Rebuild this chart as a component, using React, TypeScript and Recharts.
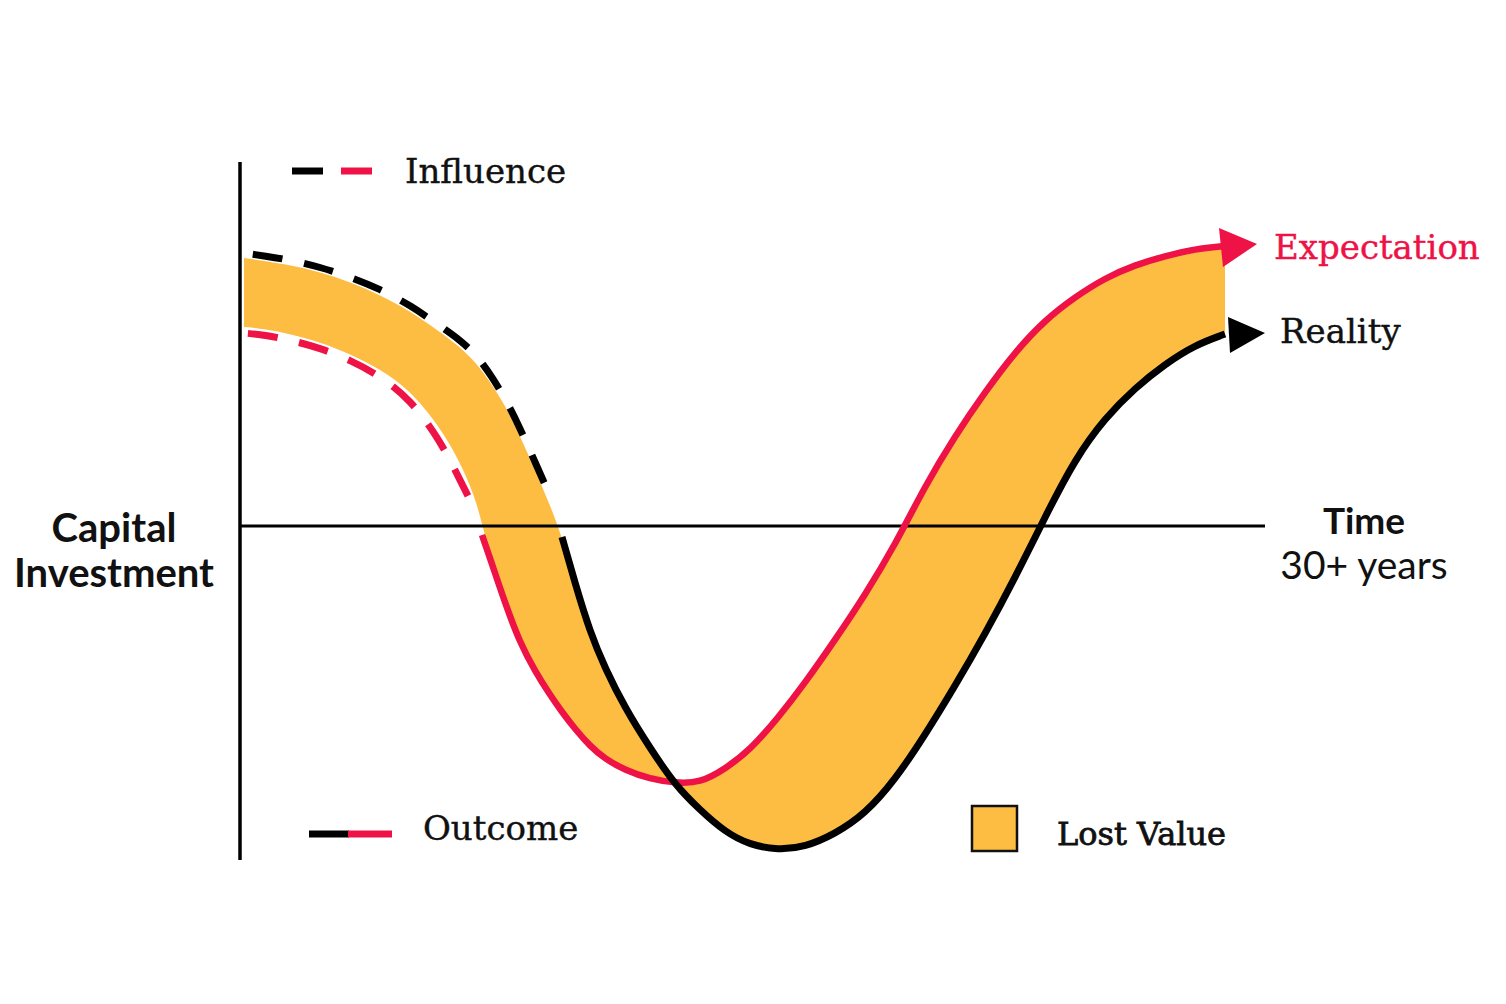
import { ComposedChart, Area, Line, XAxis, YAxis, ReferenceLine, Customized } from "recharts";

const RED = "#EE1246";
const GOLD = "#FCBD42";
const SERIF = "'DejaVu Serif', serif";
const SANS = "Lato, 'Open Sans', sans-serif";

// time positions along the horizontal axis
const xs = [
  244, 265, 290, 320, 350, 380, 410, 440, 460, 475, 482, 490, 505, 520, 535, 550, 562, 575, 590, 605, 625,
  650, 675, 700, 725, 750, 778, 805, 835, 865, 895, 925, 955, 985, 1015, 1045, 1075, 1105, 1135, 1165, 1195, 1225,
];

// level above / below the time axis
const reality = [
  273, 270, 266, 259, 249, 237, 221, 200, 186, 172, 163, 152, 128, 98, 64, 30, -11, -57, -106, -142, -182,
  -222, -259, -284, -306, -319, -324, -321, -308, -288, -254, -209, -160, -108, -52, 9, 67, 108, 138, 162, 181, 192,
];
const expectation = [
  193, 191, 186, 178, 166, 150, 127, 86, 46, 16, -9, -32, -77, -117, -145, -169, -186, -203, -220, -233, -244,
  -253, -257, -257, -243, -224, -192, -157, -114, -69, -19, 40, 90, 134, 174, 206, 229, 248, 261, 270, 277, 280,
];

// edges of the lost value band (sits just inside the dashed influence lines)
const bandReality = [
  268, 265, 261, 254, 244, 231, 215, 194, 179, 164, 155, 144, 121, 90, 56, 21, -11, -57, -106, -142, -182,
  -222, -259, -284, -306, -319, -324, -321, -308, -288, -254, -209, -160, -108, -52, 9, 67, 108, 138, 162, 181, 192,
];
const bandExpectation = [
  199, 197, 192, 184, 172, 157, 136, 99, 64, 29, 2, -28, -77, -117, -145, -169, -186, -203, -220, -233, -244,
  -253, -257, -257, -243, -224, -192, -157, -114, -69, -19, 40, 90, 134, 174, 206, 229, 248, 261, 270, 277, 280,
];

// where influence (dashed) ends and outcome (solid) starts
const realityDashEnd = 550;
const realitySolidStart = 562;
const expectationDashEnd = 475;
const expectationSolidStart = 482;

const rows = xs.map((x, i) => ({
  x,
  realityDash: x <= realityDashEnd ? reality[i] : null,
  realitySolid: x >= realitySolidStart ? reality[i] : null,
  expectationDash: x <= expectationDashEnd ? expectation[i] : null,
  expectationSolid: x >= expectationSolidStart ? expectation[i] : null,
  lost: [bandReality[i], bandExpectation[i]],
}));

const lastIndex = xs.length - 1;

const arrowDot = (color: string, pts: string) => (props: any) => {
  const { cx, cy, index } = props;
  if (index !== lastIndex || cx == null) return <g key={`d-${index}`} />;
  return (
    <polygon
      key={`arrow-${index}`}
      points={pts
        .split(" ")
        .map((p) => {
          const [dx, dy] = p.split(",").map(Number);
          return `${cx + dx},${cy + dy}`;
        })
        .join(" ")}
      fill={color}
    />
  );
};

const serifText = { fontFamily: SERIF, fontSize: 34, strokeWidth: 0.4 };

const Labels = () => (
  <g>
    {/* influence legend */}
    <line x1={292} y1={171} x2={323} y2={171} stroke="#000" strokeWidth={7} />
    <line x1={341} y1={171} x2={372} y2={171} stroke={RED} strokeWidth={7} />
    <text x={405} y={183} {...serifText} fill="#111" stroke="#111">
      Influence
    </text>

    {/* outcome legend */}
    <line x1={309} y1={834} x2={349} y2={834} stroke="#000" strokeWidth={7} />
    <line x1={348} y1={834} x2={392} y2={834} stroke={RED} strokeWidth={7} />
    <text x={423} y={840} {...serifText} fill="#111" stroke="#111">
      Outcome
    </text>

    {/* lost value legend */}
    <rect x={972} y={806} width={45} height={45} fill={GOLD} stroke="#111" strokeWidth={2.5} />
    <text x={1057} y={845} fontFamily={SERIF} fontSize={32} fill="#111" stroke="#111" strokeWidth={0.8}>
      Lost Value
    </text>

    <text x={1274} y={259} {...serifText} fill={RED} stroke={RED}>
      Expectation
    </text>
    <text x={1280} y={343} {...serifText} fill="#111" stroke="#111">
      Reality
    </text>

    <text x={114} y={542} textAnchor="middle" fontFamily={SANS} fontSize={40} fontWeight={700} fill="#111">
      Capital
    </text>
    <text x={114} y={587} textAnchor="middle" fontFamily={SANS} fontSize={40} fontWeight={700} fill="#111">
      Investment
    </text>
    <text x={1364} y={534} textAnchor="middle" fontFamily={SANS} fontSize={37} fontWeight={700} fill="#111">
      Time
    </text>
    <text x={1364} y={579} textAnchor="middle" fontFamily={SANS} fontSize={39} fill="#111">
      30+ years
    </text>
  </g>
);

export default function App() {
  return (
    <div style={{ position: "absolute", left: 0, top: 0, width: 1506, height: 1004, background: "#fff" }}>
      <ComposedChart width={1506} height={1004} data={rows} margin={{ top: 0, right: 0, bottom: 0, left: 0 }}>
        <XAxis type="number" dataKey="x" domain={[0, 1506]} hide />
        <YAxis type="number" domain={[-478, 526]} hide />

        <Area
          type="basis"
          dataKey="lost"
          stroke="none"
          fill={GOLD}
          fillOpacity={1}
          isAnimationActive={false}
          activeDot={false}
        />

        <ReferenceLine
          segment={[
            { x: 240, y: 364 },
            { x: 240, y: -334 },
          ]}
          stroke="#000"
          strokeWidth={3.5}
        />
        <ReferenceLine
          segment={[
            { x: 240, y: 0 },
            { x: 1265, y: 0 },
          ]}
          stroke="#000"
          strokeWidth={3}
        />

        <Line
          type="basis"
          dataKey="realityDash"
          stroke="#000"
          strokeWidth={7}
          strokeDasharray="30 22"
          strokeDashoffset={43}
          dot={false}
          activeDot={false}
          isAnimationActive={false}
        />
        <Line
          type="basis"
          dataKey="expectationDash"
          stroke={RED}
          strokeWidth={7}
          strokeDasharray="30 22"
          strokeDashoffset={48}
          dot={false}
          activeDot={false}
          isAnimationActive={false}
        />
        <Line
          type="basis"
          dataKey="expectationSolid"
          stroke={RED}
          strokeWidth={6.5}
          dot={arrowDot(RED, "-6,-18 -2,21 32,-2")}
          activeDot={false}
          isAnimationActive={false}
        />
        <Line
          type="basis"
          dataKey="realitySolid"
          stroke="#000"
          strokeWidth={7}
          dot={arrowDot("#000", "3,-17 5,19 40,-1")}
          activeDot={false}
          isAnimationActive={false}
        />

        <Customized component={Labels} />
      </ComposedChart>
    </div>
  );
}
